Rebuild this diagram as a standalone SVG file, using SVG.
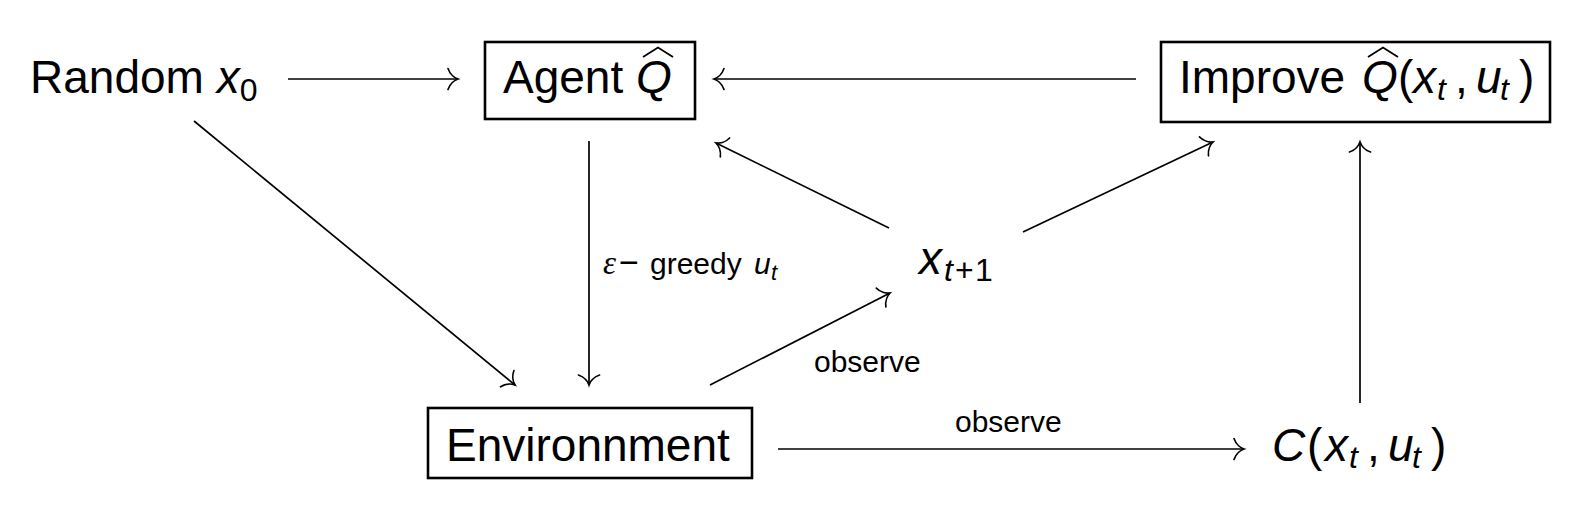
<svg xmlns="http://www.w3.org/2000/svg" width="1580" height="512" viewBox="0 0 1580 512">
<style>
text{font-family:"Liberation Sans",Arial,sans-serif;fill:#000}
.n{font-size:46px}
.l{font-size:30px}
.i{font-style:italic}
.sb{font-size:32px}
.box{fill:none;stroke:#000;stroke-width:2.6}
.e{fill:none;stroke:#000;stroke-width:1.7}
.hat{fill:none;stroke:#000;stroke-width:1.8}
</style>
<defs>
<marker id="to" markerUnits="userSpaceOnUse" markerWidth="26" markerHeight="26" viewBox="-13 -13 26 26" refX="0" refY="0" orient="auto" overflow="visible">
<path d="M-10,-10.5 C-8,-4.5 -3,-1 0,0 C-3,1 -8,4.5 -10,10.5" fill="none" stroke="#000" stroke-width="1.7" stroke-linecap="round"/>
</marker>
</defs>
<g id="edges">
<line class="e" x1="288" y1="79" x2="458" y2="79" marker-end="url(#to)"/>
<line class="e" x1="1136" y1="79" x2="714" y2="79" marker-end="url(#to)"/>
<line class="e" x1="194" y1="121" x2="515" y2="385" marker-end="url(#to)"/>
<line class="e" x1="589" y1="141" x2="589" y2="385" marker-end="url(#to)"/>
<line class="e" x1="889" y1="228" x2="716" y2="143" marker-end="url(#to)"/>
<line class="e" x1="1023" y1="232" x2="1213" y2="142" marker-end="url(#to)"/>
<line class="e" x1="710" y1="385" x2="890" y2="293" marker-end="url(#to)"/>
<line class="e" x1="778" y1="449" x2="1244" y2="449" marker-end="url(#to)"/>
<line class="e" x1="1360" y1="403" x2="1360" y2="142" marker-end="url(#to)"/>
<text class="l" y="274"><tspan x="603" font-family="Liberation Serif" font-size="33" class="i">ε</tspan><tspan x="619" font-size="34">−</tspan><tspan x="650">greedy</tspan><tspan x="754" class="i">u</tspan><tspan x="771" y="280" class="i" font-size="22">t</tspan></text>
<text class="l" x="814" y="372">observe</text>
<text class="l" x="955" y="432">observe</text>
</g>
<g id="random">
<text class="n" x="30" y="93">Random <tspan class="i">x</tspan><tspan class="sb" y="101">0</tspan></text>
</g>
<g id="agent">
<rect class="box" x="485" y="42" width="210" height="77"/>
<text class="n" x="503" y="93">Agent <tspan class="i">Q</tspan></text>
<polyline class="hat" points="643,57 658,47.5 673,57"/>
</g>
<g id="improve">
<rect class="box" x="1161" y="42" width="389" height="80"/>
<text class="n" y="93"><tspan x="1179">Improve</tspan><tspan x="1362" class="i">Q</tspan><tspan x="1398">(</tspan><tspan x="1413" class="i">x</tspan><tspan x="1437" y="100" class="i sb">t</tspan><tspan x="1455" y="93">,</tspan><tspan x="1476" class="i">u</tspan><tspan x="1500" y="100" class="i sb">t</tspan><tspan x="1519" y="93">)</tspan></text>
<polyline class="hat" points="1368,57 1383,47.5 1398,57"/>
</g>
<g id="env">
<rect class="box" x="428" y="408" width="324" height="70"/>
<text class="n" x="446" y="461">Environnment</text>
</g>
<g id="xnext">
<text class="n" y="274"><tspan x="919" class="i">x</tspan><tspan x="944" y="281" class="i sb">t</tspan><tspan x="955" class="sb">+</tspan><tspan x="975" class="sb">1</tspan></text>
</g>
<g id="cost">
<text class="n" y="461"><tspan x="1272" class="i">C</tspan><tspan x="1307">(</tspan><tspan x="1325" class="i">x</tspan><tspan x="1349" y="468" class="i sb">t</tspan><tspan x="1367" y="461">,</tspan><tspan x="1388" class="i">u</tspan><tspan x="1412" y="468" class="i sb">t</tspan><tspan x="1431" y="461">)</tspan></text>
</g>
</svg>
